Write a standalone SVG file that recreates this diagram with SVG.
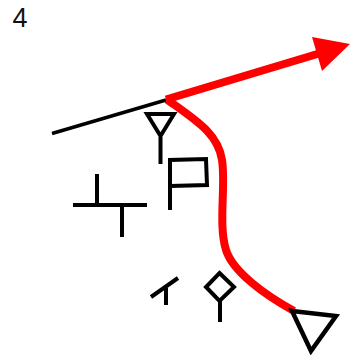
<svg xmlns="http://www.w3.org/2000/svg" width="350" height="355" viewBox="0 0 350 355">
<style>
.k{fill:none;stroke:#000;stroke-width:4}
.t{fill:none;stroke:#000;stroke-width:4.500}
.r{fill:none;stroke:#f00;stroke-width:8}
</style>
<text x="12.500" y="27" font-family="Liberation Sans, sans-serif" font-size="27" fill="#111">4</text>
<g id="connectors">
<path d="M52 133.500L166 100" fill="none" stroke="#000" stroke-width="3.500"/>
<path class="r" d="M166 99.500L324 52"/>
<path d="M312 37L350 44L322 71Z" fill="#f00"/>
<path class="r" d="M167 99.500C195 120 218 133 222 160C226 185 218 225 226 250C233 272 265 295 294 311"/>
</g>
<g id="n1"><path class="k" d="M147 114H174L160.500 136ZM160.500 134V164"/></g>
<g id="n2"><path class="k" d="M170 210V160L206 159L207 185L170 186"/></g>
<g id="n3"><path class="k" d="M73 205H147M97 174V205M122 205V237"/></g>
<g id="n4"><path class="k" d="M151 297L178 278M166 288V305"/></g>
<g id="n5"><path class="k" d="M219.500 273L234 287L219.500 301L206 287ZM220 301V322"/></g>
<g id="n6"><path class="t" d="M292 311L336 316L311 351Z"/></g>
</svg>
